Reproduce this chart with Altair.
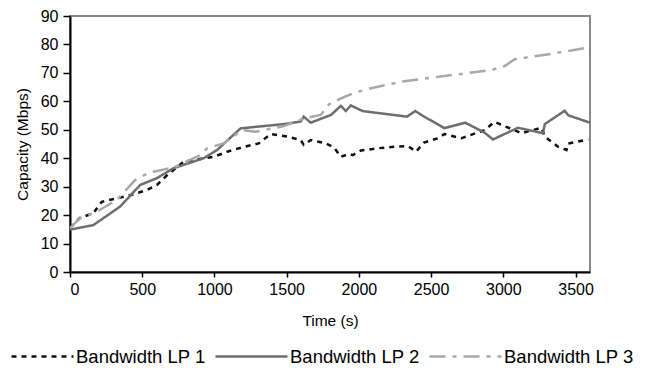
import altair as alt
import pandas as pd

series_names = ["Bandwidth LP 1", "Bandwidth LP 2", "Bandwidth LP 3"]

t1 = [0, 69, 162, 220, 333, 417, 532, 602, 671, 787, 995, 1088, 1204, 1306, 1389, 1505, 1597, 1618, 1667,
      1771, 1829, 1875, 1931, 1958, 2014, 2130, 2243, 2338, 2396, 2451, 2546, 2592, 2708, 2870, 2940, 3021,
      3125, 3264, 3287, 3380, 3437, 3449, 3588]
v1 = [15.5, 19, 20.7, 24.7, 26, 27, 28.8, 30.6, 34, 38.8, 40.5, 42.3, 44, 45.2, 48.5, 47.6, 46.4, 44.7, 46.4,
      45.2, 43.7, 40.5, 41.5, 41.1, 42.7, 43.5, 44, 44.3, 42.3, 45.5, 47, 48.5, 47, 49.9, 52.8, 51,
      48.8, 50.7, 47.6, 44, 42.9, 45.2, 46.6]

t2 = [0, 162, 347, 486, 602, 717, 926, 1018, 1181, 1481, 1597, 1618, 1667, 1806, 1875, 1910, 1944, 2025,
      2333, 2390, 2452, 2592, 2736, 2870, 2928, 3102, 3275, 3287, 3425, 3449, 3600]
v2 = [14.9, 16.5, 23, 30.6, 33, 36.5, 40, 42.9, 50.5, 52, 52.9, 54.6, 52.5, 55.2, 58.4, 56.6, 58.6, 56.6,
      54.6, 56.6, 54.6, 50.6, 52.5, 49, 46.6, 50.7, 48.8, 52, 56.7, 55.1, 52.5]

t3 = [0, 69, 185, 324, 451, 542, 729, 903, 949, 1063, 1192, 1285, 1481, 1618, 1736, 1794, 1875, 1968, 2083,
      2292, 2592, 2824, 2917, 3010, 3079, 3174, 3356, 3570]
v3 = [15.4, 18.9, 21.2, 25.3, 32.3, 34.8, 37, 41.1, 43.5, 45.2, 49.9, 49.3, 51.3, 54, 55.2, 59, 61, 63, 64.6,
      66.9, 68.9, 70.4, 71, 72.4, 74.8, 75.5, 76.9, 78.8]

x_ticks = [0, 500, 1000, 1500, 2000, 2500, 3000, 3500]
y_ticks = [0, 10, 20, 30, 40, 50, 60, 70, 80, 90]

rows = []
for name, ts, vs in zip(series_names, [t1, t2, t3], [v1, v2, v3]):
    for i, (t, v) in enumerate(zip(ts, vs)):
        rows.append({"t": t, "v": v, "series": name, "order": i})
df = pd.DataFrame(rows)

FONT = "Liberation Sans"

legend = alt.Legend(
    title=None, orient="none", legendX=-70, legendY=303, direction="horizontal",
    symbolType="stroke", symbolSize=5184, symbolStrokeWidth=2.5,
    labelFontSize=18.5, labelFont=FONT, labelColor="#000", labelOffset=1,
    columnPadding=4, symbolOffset=0, padding=0, labelLimit=300,
)

chart = alt.Chart(df).mark_line(strokeWidth=2.5).encode(
    x=alt.X("t:Q", scale=alt.Scale(domain=[0, 3600], nice=False),
            axis=alt.Axis(values=x_ticks, format="d", title="Time (s)", labelFontSize=16, titleFontSize=15.5,
                          titlePadding=16, labelPadding=4)),
    y=alt.Y("v:Q", scale=alt.Scale(domain=[0, 90], nice=False),
            axis=alt.Axis(values=y_ticks, format="d", title="Capacity (Mbps)", labelFontSize=16, titleFontSize=15.5,
                          titlePadding=10, labelPadding=5, tickSize=7)),
    color=alt.Color("series:N", scale=alt.Scale(domain=series_names, range=["#111111", "#6e6e6e", "#a9a9a9"]),
                    legend=legend),
    strokeDash=alt.StrokeDash("series:N", scale=alt.Scale(domain=series_names, range=[[5, 5], [1, 0], [16, 7, 4, 7]]),
                              legend=legend),
    order="order:Q",
).properties(
    width=520, height=256,
    autosize=alt.AutoSizeParams(type="none"),
    padding={"left": 62, "top": 8, "right": 50, "bottom": 98},
).configure_view(
    stroke="#888888", strokeWidth=2,
).configure_axis(
    grid=False, domainColor="#000", domainWidth=2, tickColor="#000", tickWidth=1.5, tickSize=5,
    labelFont=FONT, titleFont=FONT, labelColor="#000", titleColor="#000", titleFontWeight="normal",
)

chart.save("out.html", embed_options={"renderer": "svg", "actions": False})
